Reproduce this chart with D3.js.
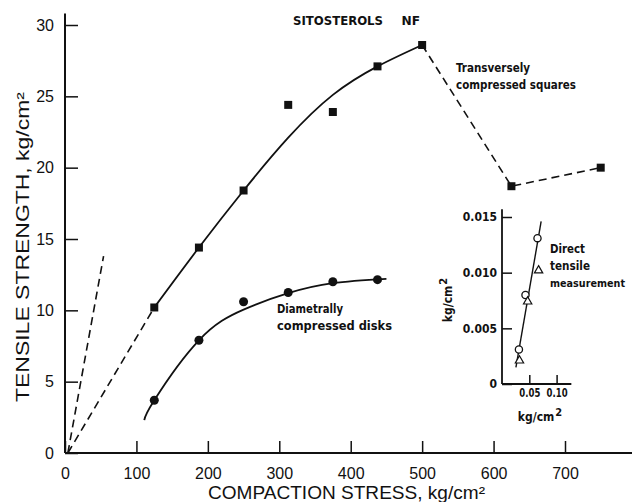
<!DOCTYPE html>
<html>
<head>
<meta charset="utf-8">
<script src="https://cdn.jsdelivr.net/npm/d3@7"></script>
<style>
  html, body { margin: 0; padding: 0; background: #fff; }
  svg { display: block; }
  .num { font-family: "Liberation Sans", Arial, Helvetica, sans-serif; font-size: 16px; fill: #111; }
  .title { font-family: "Liberation Sans", Arial, Helvetica, sans-serif; font-size: 18px; fill: #111; }
  .note { font-family: "DejaVu Sans Condensed", "Liberation Sans Narrow", sans-serif; font-weight: bold; font-size: 12px; fill: #111; }
</style>
</head>
<body>
<svg id="chart" width="632" height="502"></svg>
<script>
// Main axes
const xTicks = [0, 100, 200, 300, 400, 500, 600, 700];
const yTicks = [0, 5, 10, 15, 20, 25, 30];

// Transversely compressed squares (kg/cm²)
const squareStress   = [125, 187.5, 250, 312.5, 375, 437.5, 500, 625, 750];
const squareStrength = [10.2, 14.4, 18.4, 24.4, 23.9, 27.1, 28.6, 18.7, 20.0];

// Smooth fit through the squares up to 500 kg/cm²
const squareFitStress   = [125, 187.5, 250, 312.5, 375, 437.5, 500];
const squareFitStrength = [10.2, 14.4, 18.4, 22.1, 25.1, 27.1, 28.6];

// Dashed segments: extrapolation to origin and the fall-off beyond 500
const squareDashStress    = [500, 625, 750];
const squareDashStrength  = [28.6, 18.7, 20.0];
const originDashStress    = [4, 125];
const originDashStrength  = [0, 10.2];
const directDashStress    = [4, 54];
const directDashStrength  = [0, 13.8];

// Diametrally compressed disks
const diskStress   = [125, 187.5, 250, 312.5, 375, 437.5];
const diskStrength = [3.7, 7.9, 10.6, 11.25, 12.0, 12.15];
const diskFitStress   = [111, 125, 187.5, 250, 312.5, 375, 450];
const diskFitStrength = [2.3, 3.7, 7.9, 10.05, 11.2, 11.9, 12.2];

// Inset: direct tensile measurement
const insetXTicks = [0.05, 0.10];
const insetYTicks = [0, 0.005, 0.010, 0.015];
const insetCircleX = [0.031, 0.043, 0.065];
const insetCircleY = [0.0031, 0.0080, 0.0131];
const insetTriangleX = [0.032, 0.047, 0.067];
const insetTriangleY = [0.0021, 0.0074, 0.0102];
const insetFitX = [0.0255, 0.0717];
const insetFitY = [0.0015, 0.0146];

const svg = d3.select("#chart");
svg.append("rect").attr("width", 632).attr("height", 502).attr("fill", "#fff");

const x = d3.scaleLinear().domain([0, 700]).range([65, 565]);
const y = d3.scaleLinear().domain([0, 30]).range([453, 25]);
const ink = "#111";

const zip = (a, b) => a.map((v, i) => [v, b[i]]);
const line = (sx, sy, curve) => d3.line().x(d => sx(d[0])).y(d => sy(d[1])).curve(curve || d3.curveLinear);

// Axis lines
svg.append("line").attr("x1", x(0)).attr("x2", 632).attr("y1", y(0)).attr("y2", y(0))
  .attr("stroke", ink).attr("stroke-width", 2);
svg.append("line").attr("x1", x(0)).attr("x2", x(0)).attr("y1", y(0)).attr("y2", y(30.8))
  .attr("stroke", ink).attr("stroke-width", 2);

// Y axis ticks pointing inward
const gy = svg.append("g").attr("transform", `translate(${x(0)},0)`)
  .call(d3.axisLeft(y).tickValues(yTicks).tickSizeInner(-13).tickSizeOuter(0).tickPadding(11));
gy.select(".domain").remove();
gy.selectAll(".tick line").attr("stroke", ink).attr("stroke-width", 1.5);
gy.selectAll(".tick text").attr("class", "num");
gy.attr("font-size", null).attr("font-family", null);

// X axis ticks pointing inward
const gx = svg.append("g").attr("transform", `translate(0,${y(0)})`)
  .call(d3.axisBottom(x).tickValues(xTicks).tickSizeInner(-12).tickSizeOuter(0).tickPadding(15));
gx.select(".domain").remove();
gx.selectAll(".tick line").attr("stroke", ink).attr("stroke-width", 1.5);
gx.selectAll(".tick text").attr("class", "num");
gx.attr("font-size", null).attr("font-family", null);

// Axis titles
svg.append("text").attr("class", "title")
  .attr("x", 346.5).attr("y", 499).attr("text-anchor", "middle")
  .attr("textLength", 277).attr("lengthAdjust", "spacingAndGlyphs")
  .text("COMPACTION STRESS, kg/cm²");
svg.append("text").attr("class", "title")
  .attr("transform", "translate(28.5,247) rotate(-90)").attr("text-anchor", "middle")
  .attr("textLength", 310).attr("lengthAdjust", "spacingAndGlyphs")
  .text("TENSILE STRENGTH, kg/cm²");

// Lines
const dash = "8,5";
svg.append("path").datum(zip(originDashStress, originDashStrength))
  .attr("d", line(x, y)).attr("fill", "none").attr("stroke", ink).attr("stroke-width", 1.6).attr("stroke-dasharray", dash);
svg.append("path").datum(zip(directDashStress, directDashStrength))
  .attr("d", line(x, y)).attr("fill", "none").attr("stroke", ink).attr("stroke-width", 1.6).attr("stroke-dasharray", dash);
svg.append("path").datum(zip(squareDashStress, squareDashStrength))
  .attr("d", line(x, y)).attr("fill", "none").attr("stroke", ink).attr("stroke-width", 1.6).attr("stroke-dasharray", dash);
svg.append("path").datum(zip(squareFitStress, squareFitStrength))
  .attr("d", line(x, y, d3.curveNatural)).attr("fill", "none").attr("stroke", ink).attr("stroke-width", 1.8);
svg.append("path").datum(zip(diskFitStress, diskFitStrength))
  .attr("d", line(x, y, d3.curveNatural)).attr("fill", "none").attr("stroke", ink).attr("stroke-width", 1.8);

// Markers
svg.append("g").selectAll("path").data(zip(squareStress, squareStrength)).join("path")
  .attr("transform", d => `translate(${x(d[0])},${y(d[1])})`)
  .attr("d", d3.symbol(d3.symbolSquare, 64)).attr("fill", ink);
svg.append("g").selectAll("circle").data(zip(diskStress, diskStrength)).join("circle")
  .attr("cx", d => x(d[0])).attr("cy", d => y(d[1])).attr("r", 4.5).attr("fill", ink);

// Annotations
const note = (tx, ty, str, len) => svg.append("text").attr("class", "note")
  .attr("x", tx).attr("y", ty).attr("textLength", len).attr("lengthAdjust", "spacingAndGlyphs").text(str);
note(293, 25, "SITOSTEROLS", 90);
note(401.5, 25, "NF", 18.5);
note(456, 72, "Transversely", 74);
note(456, 89, "compressed squares", 120);
note(277, 313, "Diametrally", 66);
note(277, 330, "compressed disks", 115);
note(550, 253, "Direct", 35);
note(550, 270, "tensile", 40);
note(550, 287, "measurement", 75).style("font-size", "10.5px");

// Inset
const ix = d3.scaleLinear().domain([0, 0.10]).range([502, 556.6]);
const iy = d3.scaleLinear().domain([0, 0.015]).range([384, 217]);

svg.append("line").attr("x1", ix(0)).attr("x2", ix(0.127)).attr("y1", iy(0)).attr("y2", iy(0))
  .attr("stroke", ink).attr("stroke-width", 1.8);
svg.append("line").attr("x1", ix(0)).attr("x2", ix(0)).attr("y1", iy(0)).attr("y2", iy(0.0157))
  .attr("stroke", ink).attr("stroke-width", 1.8);

const iga = svg.append("g").attr("transform", `translate(${ix(0)},0)`)
  .call(d3.axisLeft(iy).tickValues(insetYTicks).tickSizeInner(-10).tickSizeOuter(0).tickPadding(5)
    .tickFormat(d => d === 0 ? "0" : d3.format(".3f")(d)));
iga.select(".domain").remove();
iga.selectAll(".tick line").attr("stroke", ink).attr("stroke-width", 1.5);
iga.selectAll(".tick text").attr("class", "note").attr("fill", null);
iga.attr("font-size", null).attr("font-family", null);

const igb = svg.append("g").attr("transform", `translate(0,${iy(0)})`)
  .call(d3.axisBottom(ix).tickValues(insetXTicks).tickSizeInner(-9).tickSizeOuter(0).tickPadding(5)
    .tickFormat(d3.format(".2f")));
igb.select(".domain").remove();
igb.selectAll(".tick line").attr("stroke", ink).attr("stroke-width", 1.5);
igb.selectAll(".tick text").attr("class", "note").attr("fill", null)
  .style("font-size", "11.5px").attr("textLength", 21).attr("lengthAdjust", "spacingAndGlyphs");
igb.attr("font-size", null).attr("font-family", null);

const ixl = svg.append("text").attr("class", "note").attr("x", 540).attr("y", 421).attr("text-anchor", "middle");
ixl.append("tspan").text("kg/cm");
ixl.append("tspan").attr("dy", -5).attr("dx", 1).style("font-size", "11px").text("2");
const iyl = svg.append("text").attr("class", "note")
  .attr("transform", "translate(452,300) rotate(-90)").attr("text-anchor", "middle");
iyl.append("tspan").text("kg/cm");
iyl.append("tspan").attr("dy", -5).attr("dx", 1).style("font-size", "11px").text("2");

svg.append("path").datum(zip(insetFitX, insetFitY))
  .attr("d", line(ix, iy)).attr("fill", "none").attr("stroke", ink).attr("stroke-width", 1.4);
svg.append("g").selectAll("circle").data(zip(insetCircleX, insetCircleY)).join("circle")
  .attr("cx", d => ix(d[0])).attr("cy", d => iy(d[1])).attr("r", 3.6)
  .attr("fill", "#fff").attr("stroke", ink).attr("stroke-width", 1.3);
svg.append("g").selectAll("path").data(zip(insetTriangleX, insetTriangleY)).join("path")
  .attr("transform", d => `translate(${ix(d[0])},${iy(d[1])})`)
  .attr("d", d3.symbol(d3.symbolTriangle, 30))
  .attr("fill", "#fff").attr("stroke", ink).attr("stroke-width", 1.2);
</script>
</body>
</html>
